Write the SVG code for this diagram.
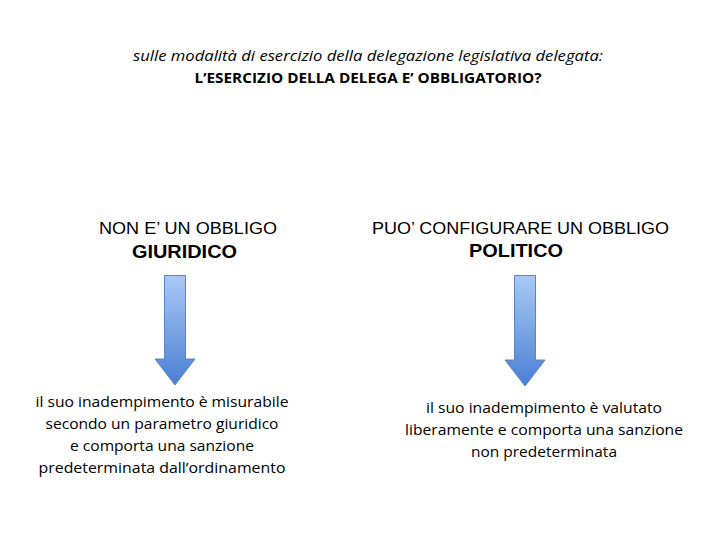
<svg xmlns="http://www.w3.org/2000/svg" width="720" height="540" viewBox="0 0 720 540">
<style>
.t{font-family:"Open Sans","Liberation Sans",sans-serif;fill:#000;text-anchor:middle}
.a{font-family:"Liberation Sans",Arial,sans-serif;fill:#000;text-anchor:middle}
.arr{fill:url(#g);stroke:#5a84c8;stroke-width:1}
</style>
<defs>
<linearGradient id="g" x1="0" y1="0" x2="0" y2="1">
<stop offset="0" stop-color="#a9c9f5"/>
<stop offset="1" stop-color="#4a7fd4"/>
</linearGradient>
</defs>
<rect width="720" height="540" fill="#fff"/>
<g id="title">
<text class="t" x="368" y="61" font-size="15" font-style="italic" textLength="470" lengthAdjust="spacingAndGlyphs">sulle modalità di esercizio della delegazione legislativa delegata:</text>
<text class="t" x="368" y="83" font-size="15" font-weight="bold" textLength="347" lengthAdjust="spacingAndGlyphs">L’ESERCIZIO DELLA DELEGA E’ OBBLIGATORIO?</text>
</g>
<g id="left-head">
<text class="a" x="188" y="234" font-size="16" textLength="178" lengthAdjust="spacingAndGlyphs">NON E’ UN OBBLIGO</text>
<text class="a" x="184.5" y="258" font-size="18" font-weight="bold" textLength="105" lengthAdjust="spacingAndGlyphs">GIURIDICO</text>
</g>
<g id="right-head">
<text class="a" x="520.5" y="234" font-size="16" textLength="297" lengthAdjust="spacingAndGlyphs">PUO’ CONFIGURARE UN OBBLIGO</text>
<text class="a" x="516" y="257" font-size="18" font-weight="bold" textLength="94" lengthAdjust="spacingAndGlyphs">POLITICO</text>
</g>
<g id="connectors">
<path class="arr" d="M164.5,275.5 H185.5 V359 H195 L175,385 L155,359 H164.5 Z"/>
<path class="arr" d="M514.5,275.5 H535.5 V360 H545 L525,386 L505,360 H514.5 Z"/>
</g>
<g id="left-text" font-size="15">
<text class="t" x="162" y="407" textLength="253" lengthAdjust="spacingAndGlyphs">il suo inadempimento è misurabile</text>
<text class="t" x="162" y="429" textLength="233" lengthAdjust="spacingAndGlyphs">secondo un parametro giuridico</text>
<text class="t" x="162" y="451" textLength="184" lengthAdjust="spacingAndGlyphs">e comporta una sanzione</text>
<text class="t" x="162" y="473" textLength="247" lengthAdjust="spacingAndGlyphs">predeterminata dall’ordinamento</text>
</g>
<g id="right-text" font-size="15">
<text class="t" x="544" y="413" textLength="236" lengthAdjust="spacingAndGlyphs">il suo inadempimento è valutato</text>
<text class="t" x="544" y="435" textLength="278" lengthAdjust="spacingAndGlyphs">liberamente e comporta una sanzione</text>
<text class="t" x="544" y="457" textLength="146" lengthAdjust="spacingAndGlyphs">non predeterminata</text>
</g>
</svg>
